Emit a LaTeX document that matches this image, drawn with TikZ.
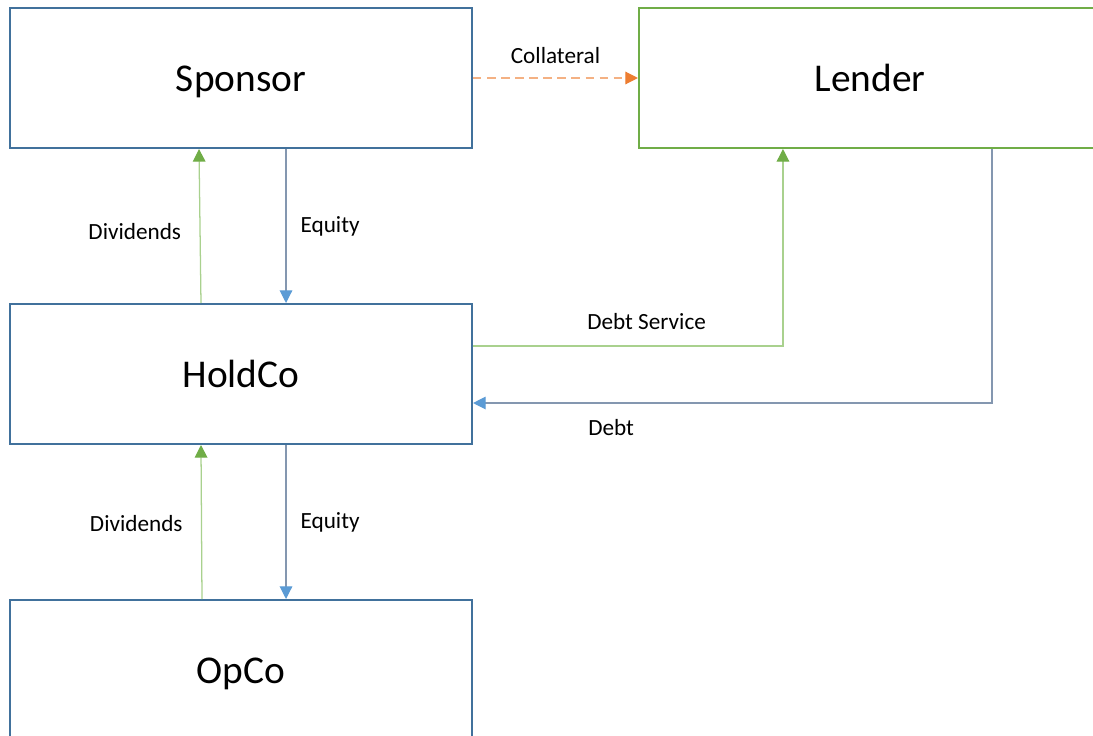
\documentclass[tikz,border=0pt]{standalone}
\usepackage{fontspec}
\setmainfont{Carlito}
\usetikzlibrary{arrows.meta,calc}
\definecolor{BoxBlue}{HTML}{41719C}
\definecolor{BoxGreen}{HTML}{70AD47}
\definecolor{LineBlue}{HTML}{8497B0}
\definecolor{TipBlue}{HTML}{5B9BD5}
\definecolor{LineGreen}{HTML}{A9D18E}
\definecolor{LineOrange}{HTML}{F4B183}
\definecolor{TipOrange}{HTML}{ED7D31}

\begin{document}
\begin{tikzpicture}[x=0.025cm, y=-0.025cm,
  entity/.style={draw=BoxBlue, line width=1.4pt, minimum width=11.55cm, minimum height=3.5cm, text height=20pt, text depth=1.5pt, font=\fontsize{28}{32}\selectfont},
  lbl/.style={font=\fontsize{16.5}{19}\selectfont, inner sep=4pt},
  down/.style={-{Triangle[length=9pt, width=9pt, color=TipBlue]}, draw=LineBlue, line width=0.8pt},
  up/.style={-{Triangle[length=9pt, width=9pt, color=BoxGreen]}, draw=LineGreen, line width=0.9pt},
  pledge/.style={-{Triangle[length=9pt, width=9pt, color=TipOrange]}, draw=LineOrange, line width=0.9pt, dash pattern=on 6pt off 4pt}
]
  \clip (0,0) rectangle (1093,736);
  \node[entity] (s) at (241,78) {Sponsor};
  \node[entity, draw=BoxGreen] (l) at (870,78) {Lender};
  \node[entity] (h) at (241,374) {HoldCo};
  \node[entity] (o) at (241,670) {OpCo};
  % sponsor <-> lender
  \draw[pledge] (s.east) -- node[lbl, above=6pt] {Collateral} (l.west);
  % sponsor <-> holdco
  \draw[up] ([xshift=-1.0cm]h.north) -- node[lbl, left, xshift=-9pt, yshift=-4pt] {Dividends} ([xshift=-1.05cm]s.south);
  \draw[down] ([xshift=1.125cm]s.south) -- node[lbl, right, xshift=6pt] {Equity} ([xshift=1.125cm]h.north);
  % holdco <-> opco
  \draw[up] ([xshift=-0.975cm]o.north) -- node[lbl, left, xshift=-9pt, yshift=-1pt] {Dividends} ([xshift=-1.0cm]h.south);
  \draw[down] ([xshift=1.125cm]h.south) -- node[lbl, right, xshift=6pt] {Equity} ([xshift=1.125cm]o.north);
  % holdco <-> lender
  \draw[up] ([yshift=0.7cm]h.east) -| node[lbl, above, pos=0.28, yshift=7pt] {Debt Service} ([xshift=-2.175cm]l.south);
  \draw[down] ([xshift=3.05cm]l.south) |- node[lbl, below, pos=0.867, yshift=-7pt] {Debt} ([yshift=-0.725cm]h.east);
\end{tikzpicture}
\end{document}
